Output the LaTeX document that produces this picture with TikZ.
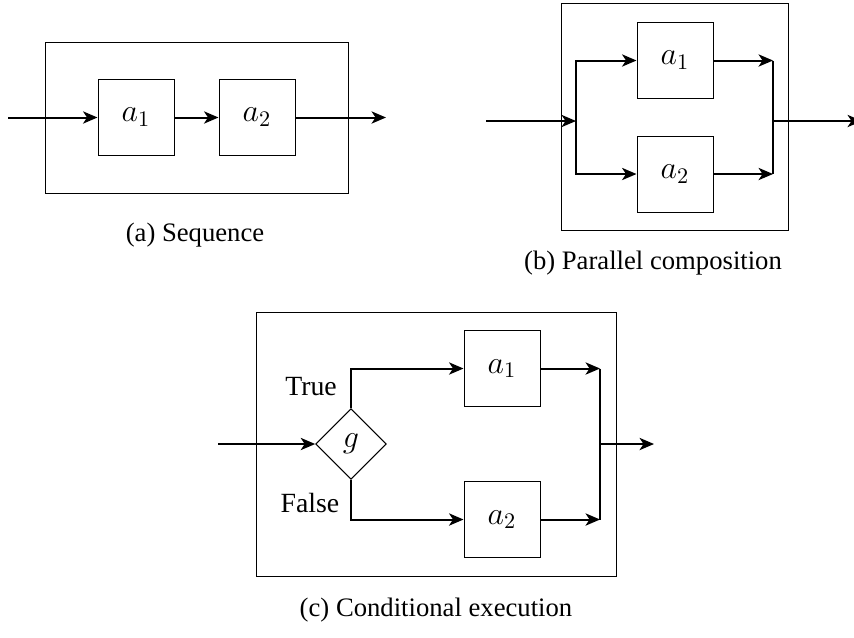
\documentclass[tikz,border=0pt]{standalone}
\usepackage{fontspec}
\setmainfont{Liberation Serif}
\usetikzlibrary{arrows.meta,shapes.geometric,fit}

\begin{document}
\begin{tikzpicture}[
  x=0.45pt, y=-0.45pt,
  font=\fontsize{12}{14}\selectfont,
  block/.style={draw, line width=0.45pt, minimum width=34.2pt, minimum height=34.2pt, inner sep=0pt, font=\fontsize{14}{16}\selectfont},
  guard/.style={draw, diamond, aspect=1, line width=0.45pt, minimum width=31.8pt, minimum height=31.8pt, inner sep=0pt, font=\fontsize{14}{16}\selectfont},
  frame/.style={draw, line width=0.45pt, inner sep=0pt},
  flow/.style={line width=0.9pt, -{Stealth[length=6.5pt, width=5.5pt, inset=1.8pt]}},
  wire/.style={line width=0.9pt},
  caption/.style={font=\fontsize{12}{14}\selectfont},
  branch/.style={font=\fontsize{12.5}{14}\selectfont}
]
\useasboundingbox (0,0) rectangle (854,637);

% ---------- (a) sequence ----------
\coordinate (aTL) at (45,42);
\coordinate (aBR) at (348,193);
\node[frame, fit=(aTL)(aBR)] (aframe) {};
\node[block] (a1) at (136,117.5) {$a_1$};
\node[block] (a2) at (257,117.5) {$a_2$};
\coordinate (ain) at (8,117.5);
\coordinate (aout) at (386,117.5);
\draw[flow] (ain) -- (a1);
\draw[flow] (a1) -- (a2);
\draw[flow] (a2) -- (aout);
\node[caption] (acap) at (195,235) {(a) Sequence};

% ---------- (b) parallel composition ----------
\coordinate (bTL) at (561,3);
\coordinate (bBR) at (788,230);
\node[frame, fit=(bTL)(bBR)] (bframe) {};
\node[block] (b1) at (675,60.5) {$a_1$};
\node[block] (b2) at (675,174) {$a_2$};
\coordinate (bin) at (486,121);
\coordinate (bsplit) at (576,121);
\coordinate (bm1) at (773,60.5);
\coordinate (bm2) at (773,174);
\coordinate (bmid) at (773,121);
\coordinate (bout) at (862,121);
\draw[flow] (bin) -- (bsplit);
\draw[flow] (bsplit) |- (b1);
\draw[flow] (bsplit) |- (b2);
\draw[flow] (b1) -- (bm1);
\draw[flow] (b2) -- (bm2);
\draw[wire] (bm1) -- (bm2);
\draw[flow] (bmid) -- (bout);
\node[caption] (bcap) at (653,263) {(b) Parallel composition};

% ---------- (c) conditional execution ----------
\coordinate (cTL) at (256,312);
\coordinate (cBR) at (616,576);
\node[frame, fit=(cTL)(cBR)] (cframe) {};
\node[guard] (g) at (351,444) {$g$};
\node[block] (c1) at (502,368.5) {$a_1$};
\node[block] (c2) at (502,519.5) {$a_2$};
\coordinate (cin) at (218,444);
\coordinate (cm1) at (600,368.5);
\coordinate (cm2) at (600,519.5);
\coordinate (cmid) at (600,444);
\coordinate (cout) at (654,444);
\draw[flow] (cin) -- (g);
\draw[flow] (g.north) |- (c1);
\draw[flow] (g.south) |- (c2);
\draw[flow] (c1) -- (cm1);
\draw[flow] (c2) -- (cm2);
\draw[wire] (cm1) -- (cm2);
\draw[flow] (cmid) -- (cout);
\node[branch] (tlabel) at (311,387) {True};
\node[branch] (flabel) at (310,503) {False};
\node[caption] (ccap) at (436,610) {(c) Conditional execution};
\end{tikzpicture}
\end{document}
